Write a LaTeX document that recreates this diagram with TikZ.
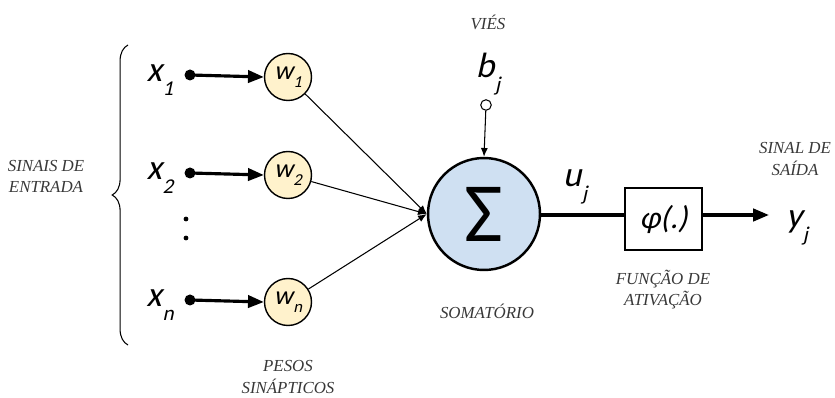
\documentclass[tikz,border=0pt]{standalone}
\usepackage{fontspec}
\setmainfont{Liberation Serif}
\newfontfamily\calfont{Carlito}[AutoFakeSlant=0.22]
\usetikzlibrary{positioning}
\usetikzlibrary{arrows.meta}
\usetikzlibrary{decorations.pathreplacing}

\definecolor{pesofill}{HTML}{FFF2CC}
\definecolor{somafill}{HTML}{CFE0F2}
\definecolor{legenda}{HTML}{383838}

\newcommand{\var}[2]{{\calfont\itshape\fontsize{20}{20}\selectfont #1\kern0.5pt\raisebox{-0.38em}{\fontsize{12}{12}\selectfont #2}}}
\newcommand{\peso}[2]{{\calfont\itshape\fontsize{15}{15}\selectfont #1\kern0.3pt\raisebox{-0.3em}{\fontsize{9.5}{9.5}\selectfont #2}}}

\begin{document}
\begin{tikzpicture}
	[x=0.02cm,y=-0.02cm,align=center,
	peso/.style={circle,draw,line width=0.8pt,fill=pesofill,minimum size=0.94cm,inner sep=0pt},
	soma/.style={circle,draw,line width=1.4pt,fill=somafill,minimum size=2.24cm,inner sep=0pt},
	ativ/.style={rectangle,draw,line width=0.7pt,minimum width=1.54cm,minimum height=1.24cm,inner sep=0pt},
	legenda/.style={font=\itshape\fontsize{9.6}{12}\selectfont,text=legenda},
	entrada/.style={-{Triangle[length=9pt,width=7pt]},line width=1.8pt},
	sinapse/.style={-{Latex[length=5pt,width=4pt]},line width=0.6pt},
	placeholder/.style={}]
	\useasboundingbox (0,0) rectangle (835,398);
	% entradas e pesos
	\node[peso] (w1) at (288,77) {\peso{w}{1}};
	\node[peso] (w2) at (288,175) {\peso{w}{2}};
	\node[peso] (wn) at (288,302) {\peso{w}{n}};
	\node[placeholder] (x1) at (160,80) {\var{x}{1}};
	\node[placeholder] (x2) at (160,178) {\var{x}{2}};
	\node[placeholder] (xn) at (160,305) {\var{x}{n}};
	\fill (190,75) circle (5.5) coordinate (d1);
	\fill (190,173) circle (5.5) coordinate (d2);
	\fill (190,300) circle (5.5) coordinate (dn);
	\fill (186,219) circle (2.4);
	\fill (186,238) circle (2.4);
	\draw [entrada] (d1) -- (w1.west);
	\draw [entrada] (d2) -- (w2.west);
	\draw [entrada] (dn) -- (wn.west);
	% somatorio
	\node[soma] (sum) at (484,214) {{\calfont\fontsize{48}{48}\selectfont Σ}};
	\draw [sinapse] (w1) -- (sum.west);
	\draw [sinapse] (w2) -- (sum.west);
	\draw [sinapse] (wn) -- (sum.west);
	% bias
	\node[placeholder] (bj) at (488,74) {\var{b}{j}};
	\node[circle,draw,line width=0.6pt,minimum size=6pt,inner sep=0pt] (bo) at (486,105) {};
	\draw [sinapse] (bo) -- (sum.north);
	% ativacao e saida
	\node[ativ] (phi) at (663.5,219) {{\calfont\itshape\fontsize{18}{18}\selectfont φ(.)}};
	\node[placeholder] (uj) at (575,187) {\var{u}{j}};
	\node[placeholder] (yj) at (797,228) {\var{y}{j}};
	\coordinate (fim) at (769,215);
	\draw [line width=1.8pt] (sum.east |- 0,215) -- (phi.west |- 0,215);
	\draw [entrada] (phi.east |- 0,215) -- (fim);
	% chave e legendas
	\draw [line width=0.6pt,decorate,decoration={brace,amplitude=9pt,aspect=0.5}] (128,345) -- (128,45);
	\node[legenda] (ent) at (46,176) {SINAIS DE\\ENTRADA};
	\node[legenda] (vies) at (488,22) {VIÉS};
	\node[legenda] (somat) at (487,311) {SOMATÓRIO};
	\node[legenda] (func) at (663,290) {FUNÇÃO DE\\ATIVAÇÃO};
	\node[legenda] (said) at (795,159) {SINAL DE\\SAÍDA};
	\node[legenda] (pesos) at (288,377) {PESOS\\SINÁPTICOS};
\end{tikzpicture}
\end{document}
